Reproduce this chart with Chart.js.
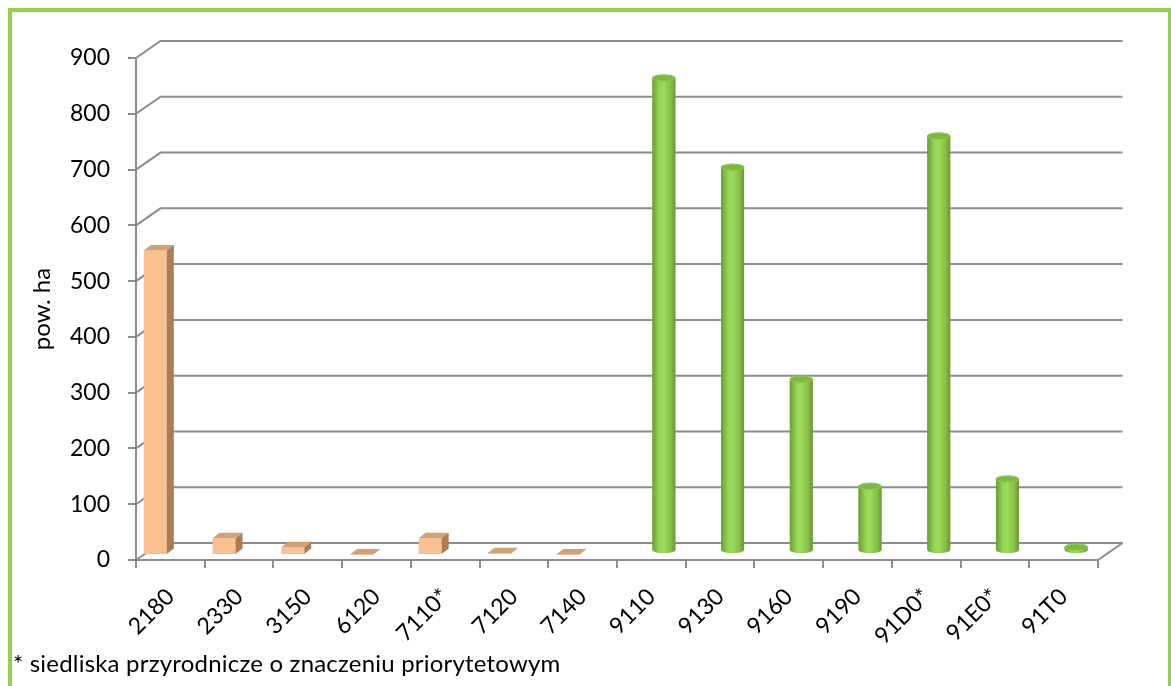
<!DOCTYPE html>
<html><head><meta charset="utf-8">
<script src="https://cdn.jsdelivr.net/npm/chart.js@4/dist/chart.umd.min.js"></script>
<style>
html,body{margin:0;padding:0;background:#fff;}
#wrap{position:relative;width:1171px;height:686px;overflow:hidden;background:#fff;}
#frame{position:absolute;left:8px;top:8px;width:1156px;height:700px;border:4px solid #92d050;box-sizing:content-box;}
#c{position:absolute;left:0;top:0;}
#note{position:absolute;left:13px;top:648px;font-family:Lato,sans-serif;font-size:24px;letter-spacing:0.2px;color:#000;white-space:nowrap;}
</style></head>
<body><div id="wrap"><div id="frame"></div><canvas id="c" width="1171" height="686"></canvas><div id="note">* siedliska przyrodnicze o znaczeniu priorytetowym</div></div>
<script>
const categories = ['2180','2330','3150','6120','7110*','7120','7140','9110','9130','9160','9190','91D0*','91E0*','91T0'];
const nonForestHabitats = [546, 30, 14, 1, 30, 3, 1, null, null, null, null, null, null, null];
const forestHabitats = [null, null, null, null, null, null, null, 848, 688, 308, 116, 744, 129, 7];
const yTickValues = [0, 100, 200, 300, 400, 500, 600, 700, 800, 900];

const DEPTH = {x: 24.5, y: -17};
const BOX = {x: 7, y: -5.5};
const GRID = '#8c8c8c';

function drawBox(ctx, x, y, base, w) {
  const l = x - w / 2, r = x + w / 2;
  ctx.fillStyle = '#d3a176';
  ctx.beginPath();
  ctx.moveTo(l, y); ctx.lineTo(r, y); ctx.lineTo(r + BOX.x, y + BOX.y); ctx.lineTo(l + BOX.x, y + BOX.y);
  ctx.closePath(); ctx.fill();
  ctx.fillStyle = '#aa7d56';
  ctx.beginPath();
  ctx.moveTo(r, y); ctx.lineTo(r + BOX.x, y + BOX.y); ctx.lineTo(r + BOX.x, base + BOX.y); ctx.lineTo(r, base);
  ctx.closePath(); ctx.fill();
}

function drawCylinder(ctx, x, y, base, w) {
  const l = x - w / 2, r = x + w / 2, rx = w / 2, ry = 3.2;
  const g = ctx.createLinearGradient(l, 0, r, 0);
  g.addColorStop(0, '#6a9d33');
  g.addColorStop(0.3, '#95d455');
  g.addColorStop(0.5, '#9cda5c');
  g.addColorStop(0.8, '#86bf47');
  g.addColorStop(1, '#679832');
  ctx.fillStyle = g;
  ctx.beginPath();
  ctx.moveTo(l, y);
  ctx.lineTo(l, base);
  ctx.ellipse(x, base, rx, ry, 0, Math.PI, 0, true);
  ctx.lineTo(r, y);
  ctx.closePath();
  ctx.fill();
  ctx.fillStyle = '#7fb744';
  ctx.strokeStyle = '#8fca52';
  ctx.lineWidth = 1;
  ctx.beginPath();
  ctx.ellipse(x, y, rx, ry, 0, 0, Math.PI * 2);
  ctx.fill();
  ctx.stroke();
}

const frame3d = {
  id: 'frame3d',
  beforeDatasetsDraw(chart) {
    const {ctx, chartArea: a, scales: {y}} = chart;
    ctx.save();
    ctx.strokeStyle = GRID;
    ctx.lineWidth = 2;
    yTickValues.forEach(v => {
      const py = y.getPixelForValue(v);
      ctx.beginPath();
      ctx.moveTo(a.left, py);
      ctx.lineTo(a.left + DEPTH.x, py + DEPTH.y);
      ctx.lineTo(a.right + DEPTH.x, py + DEPTH.y);
      ctx.stroke();
    });
    const p0 = y.getPixelForValue(0);
    ctx.beginPath();
    ctx.moveTo(a.right, p0);
    ctx.lineTo(a.right + DEPTH.x, p0 + DEPTH.y);
    ctx.stroke();
    ctx.restore();
  },
  beforeDatasetDraw(chart, args) {
    const ctx = chart.ctx;
    ctx.save();
    if (args.index === 0) ctx.translate(-3, -5); else ctx.translate(0.5, -9);
  },
  afterDatasetDraw(chart, args) {
    const ctx = chart.ctx;
    const data = chart.data.datasets[args.index].data;
    args.meta.data.forEach((el, i) => {
      if (data[i] == null) return;
      const p = el.getProps(['x', 'y', 'base', 'width'], true);
      if (args.index === 0) drawBox(ctx, p.x, p.y, p.base, p.width);
      else drawCylinder(ctx, p.x, p.y, p.base, p.width);
    });
    ctx.restore();
  }
};

const tickFont = {family: 'Lato', size: 23};

new Chart(document.getElementById('c'), {
  type: 'bar',
  data: {
    labels: categories,
    datasets: [
      {label: 'nieleśne', data: nonForestHabitats, backgroundColor: '#fac090', borderWidth: 0, categoryPercentage: 0.70, barPercentage: 0.955},
      {label: 'leśne', data: forestHabitats, backgroundColor: '#92d050', borderWidth: 0, categoryPercentage: 0.70, barPercentage: 0.955}
    ]
  },
  options: {
    responsive: false,
    animation: false,
    devicePixelRatio: 1,
    layout: {padding: {left: 0, right: 73, top: 58, bottom: 0}},
    plugins: {legend: {display: false}, tooltip: {enabled: false}},
    scales: {
      x: {
        grid: {drawOnChartArea: false, drawTicks: true, tickLength: 8, color: GRID, lineWidth: 2, offset: true},
        border: {display: true, color: GRID, width: 2},
        ticks: {font: tickFont, color: '#000', minRotation: 45, maxRotation: 45, padding: 15},
        afterFit(s) { s.height = 126; }
      },
      y: {
        min: 0, max: 900,
        grid: {drawOnChartArea: false, drawTicks: true, tickLength: 8, color: GRID, lineWidth: 2},
        border: {display: true, color: GRID, width: 2},
        ticks: {stepSize: 100, font: tickFont, color: '#000', padding: 18},
        title: {display: true, text: 'pow. ha', font: {family: 'Lato', size: 24}, color: '#000', padding: {top: 28, bottom: 0}},
        afterFit(s) { s.width = 136; }
      }
    }
  },
  plugins: [frame3d]
});
</script>
</body></html>
